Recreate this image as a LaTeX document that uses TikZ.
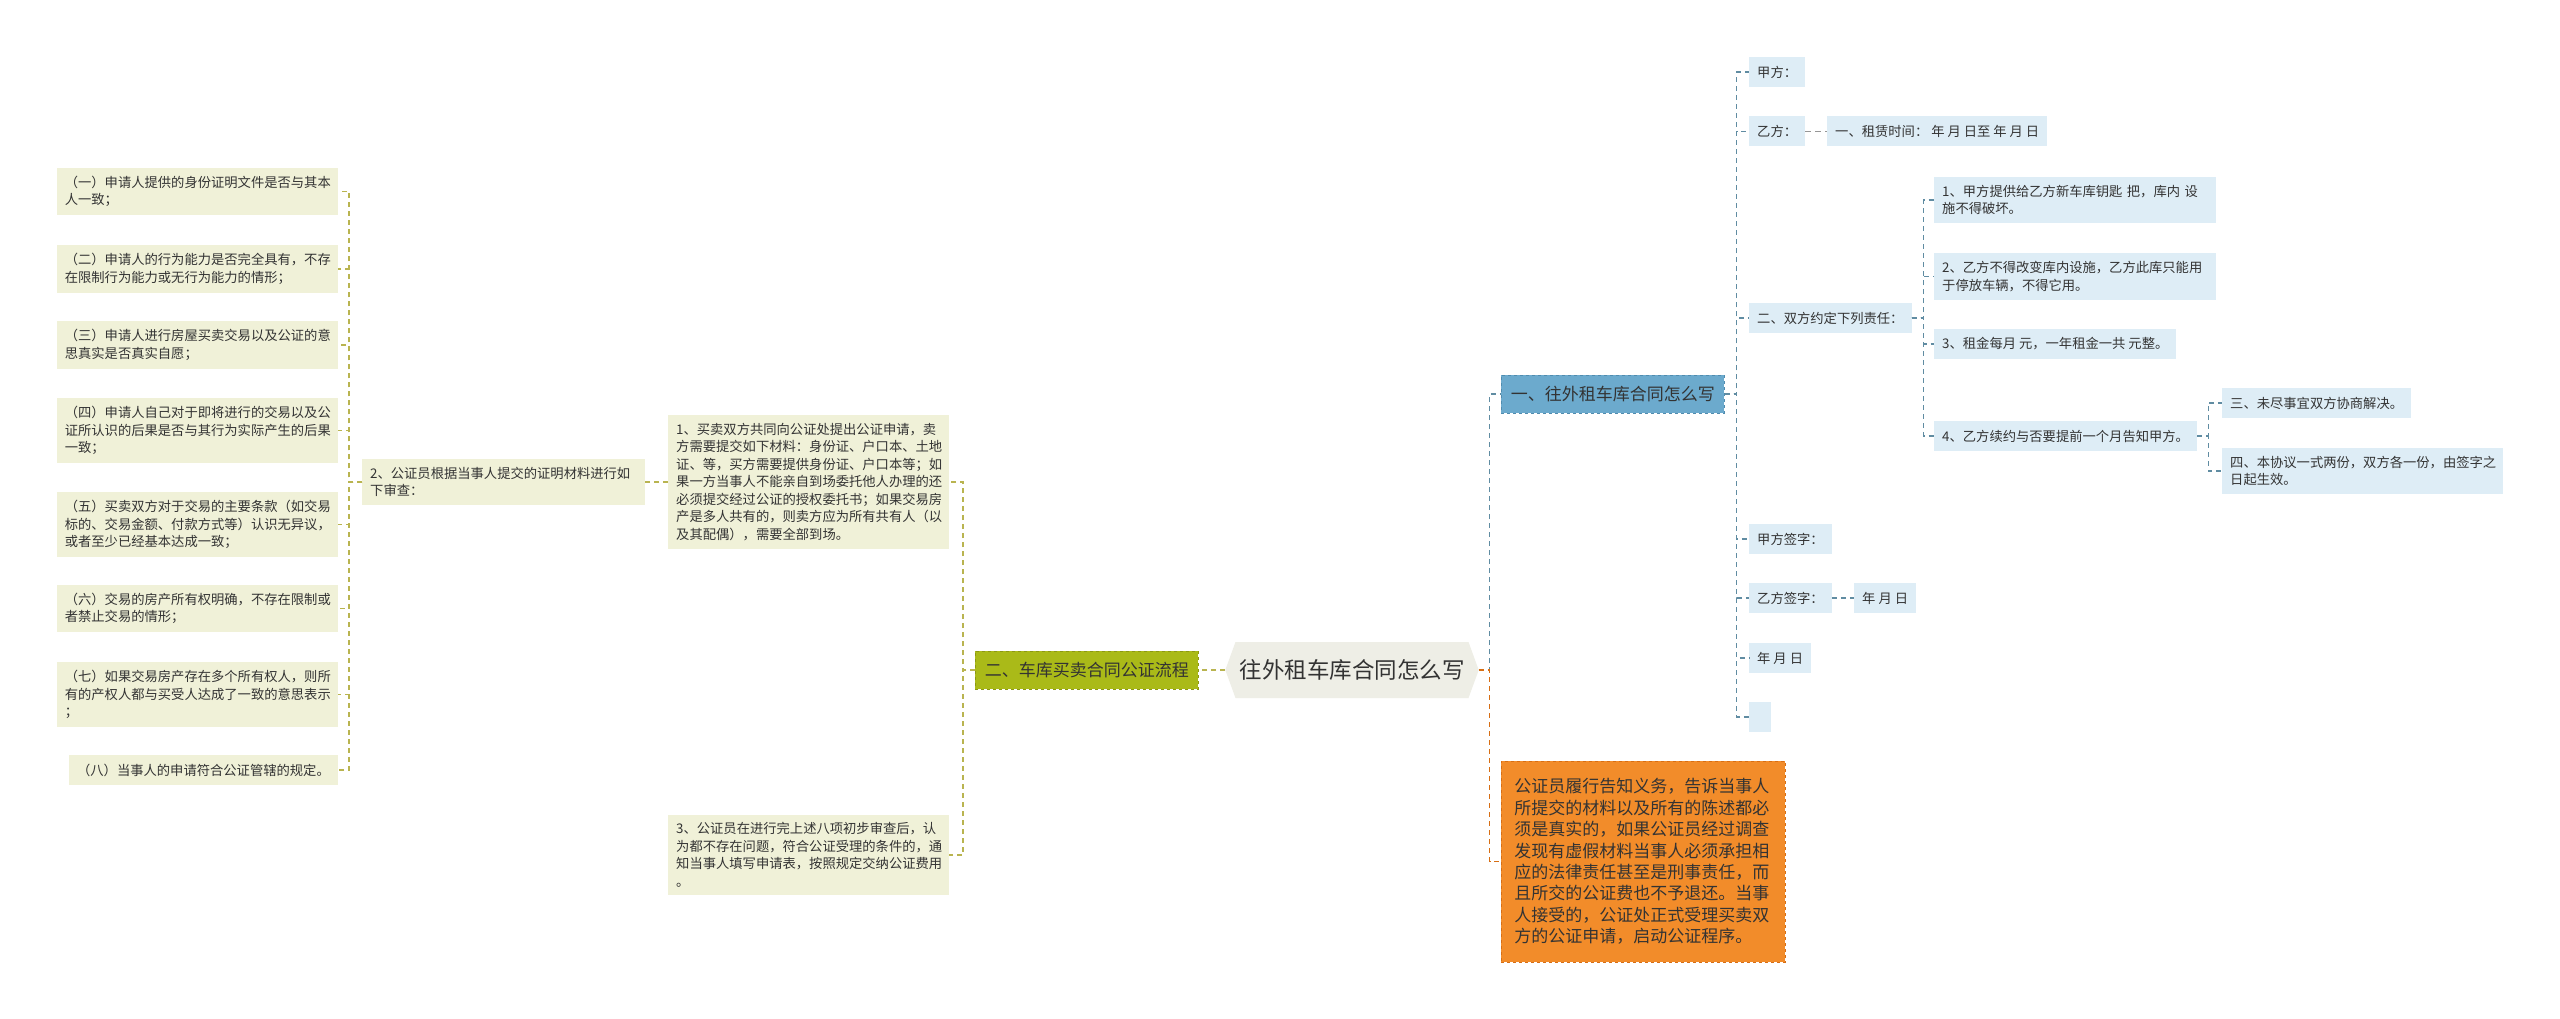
\documentclass[tikz,border=0pt]{standalone}
\usepackage{fontspec}
\newfontfamily\cjk{Noto Sans CJK SC}
\usepackage{tikz}
\usetikzlibrary{shapes.symbols, calc}
\usepackage{xcolor}

\definecolor{leafcream}{RGB}{240,241,216}
\definecolor{leafblue}{RGB}{222,237,246}
\definecolor{olivebox}{RGB}{170,186,24}
\definecolor{oliveedge}{RGB}{140,152,20}
\definecolor{oliveline}{RGB}{185,180,80}
\definecolor{bluebox}{RGB}{108,170,205}
\definecolor{blueedge}{RGB}{80,140,175}
\definecolor{blueline}{RGB}{96,140,162}
\definecolor{grayline}{RGB}{150,150,150}
\definecolor{orangebox}{RGB}{242,140,42}
\definecolor{orangeedge}{RGB}{215,110,20}
\definecolor{rootfill}{RGB}{238,238,230}
\definecolor{textgray}{RGB}{51,51,51}

\begin{document}
\begin{tikzpicture}[x=1pt, y=-1pt,
    every node/.style={text=textgray},
    smalltext/.style={font=\cjk\fontsize{13.3}{17.5}\selectfont, align=left, inner xsep=8pt, inner ysep=8pt, minimum height=30pt},
    leftleaf/.style={smalltext, fill=leafcream, anchor=east},
    rightleaf/.style={smalltext, fill=leafblue, anchor=west},
    bigbox/.style={font=\cjk\fontsize{17}{21.4}\selectfont, align=left, inner xsep=9.5pt, inner ysep=4pt, minimum height=38pt, dashed, line width=0.8pt, anchor=west},
    oliveconn/.style={draw=oliveline, dash pattern=on 5pt off 4pt, line width=1.1pt},
    blueconn/.style={draw=blueline, dash pattern=on 5pt off 4pt, line width=1.1pt},
    grayconn/.style={draw=grayline, dash pattern=on 6pt off 4pt, line width=1.4pt},
    orangeconn/.style={draw=orangeedge, dash pattern=on 5pt off 4pt, line width=1.1pt}]

    \useasboundingbox[fill=white] (0,0) rectangle (2560,1019);

    % root
    \node[signal, signal to=west and east, signal pointer angle=140, fill=rootfill,
          minimum width=252pt, minimum height=56pt, inner xsep=4pt,
          font=\cjk\fontsize{22.5}{26}\selectfont] (root) at (1352,670) {往外租车库合同怎么写};

    % left branch
    \node[bigbox, fill=olivebox, draw=oliveedge] (er) at (975,670) {二、车库买卖合同公证流程};

    \node[leftleaf, anchor=west, text width=265pt] (n1) at (668,482) {1、买卖双方共同向公证处提出公证申请，卖\\方需要提交如下材料：身份证、户口本、土地\\证、等，买方需要提供身份证、户口本等；如\\果一方当事人不能亲自到场委托他人办理的还\\必须提交经过公证的授权委托书；如果交易房\\产是多人共有的，则卖方应为所有共有人（以\\及其配偶），需要全部到场。};
    \node[leftleaf, anchor=west, text width=265pt] (n3) at (668,855) {3、公证员在进行完上述八项初步审查后，认\\为都不存在问题，符合公证受理的条件的，通\\知当事人填写申请表，按照规定交纳公证费用\\。};
    \node[leftleaf, anchor=west, text width=267pt] (n2) at (362,482) {2、公证员根据当事人提交的证明材料进行如\\下审查：};

    % checks
    \node[leftleaf, text width=265pt] (l1) at (338,191.5) {（一）申请人提供的身份证明文件是否与其本\\人一致；};
    \node[leftleaf, text width=265pt] (l2) at (338,269) {（二）申请人的行为能力是否完全具有，不存\\在限制行为能力或无行为能力的情形；};
    \node[leftleaf, text width=265pt] (l3) at (338,345) {（三）申请人进行房屋买卖交易以及公证的意\\思真实是否真实自愿；};
    \node[leftleaf, text width=265pt] (l4) at (338,430.5) {（四）申请人自己对于即将进行的交易以及公\\证所认识的后果是否与其行为实际产生的后果\\一致；};
    \node[leftleaf, text width=265pt] (l5) at (338,524.5) {（五）买卖双方对于交易的主要条款（如交易\\标的、交易金额、付款方式等）认识无异议，\\或者至少已经基本达成一致；};
    \node[leftleaf, text width=265pt] (l6) at (338,608.5) {（六）交易的房产所有权明确，不存在限制或\\者禁止交易的情形；};
    \node[leftleaf, text width=265pt] (l7) at (338,694.5) {（七）如果交易房产存在多个所有权人，则所\\有的产权人都与买受人达成了一致的意思表示\\；};
    \node[leftleaf] (l8) at (338,770) {（八）当事人的申请符合公证管辖的规定。};

    \draw[oliveconn] (root.west) -- (er.east);
    \draw[oliveconn] (er.west) -- ++(-12,0) |- (n1.east);
    \draw[oliveconn] (er.west) -- ++(-12,0) |- (n3.east);
    \draw[oliveconn] (n1.west) -- (n2.east);
    \foreach \i in {1,...,8}
        \draw[oliveconn] (n2.west) -- ++(-13,0) |- (l\i.east);

    % right branch
    \node[bigbox, fill=bluebox, draw=blueedge] (one) at (1501,394) {一、往外租车库合同怎么写};
    \node[bigbox, fill=orangebox, draw=orangeedge, text width=258pt, inner xsep=13pt, minimum height=201pt] (note) at (1501,861.5) {公证员履行告知义务，告诉当事人\\所提交的材料以及所有的陈述都必\\须是真实的，如果公证员经过调查\\发现有虚假材料当事人必须承担相\\应的法律责任甚至是刑事责任，而\\且所交的公证费也不予退还。当事\\人接受的，公证处正式受理买卖双\\方的公证申请，启动公证程序。};

    \node[rightleaf] (r1) at (1749,72) {甲方：};
    \node[rightleaf] (r2) at (1749,131.5) {乙方：};
    \node[rightleaf] (r2a) at (1827,131.5) {一、租赁时间： 年 月 日至 年 月 日};
    \node[rightleaf] (r3) at (1749,318) {二、双方约定下列责任：};
    \node[rightleaf, text width=266pt] (r3a) at (1934,200) {1、甲方提供给乙方新车库钥匙 把，库内 设\\施不得破坏。};
    \node[rightleaf, text width=266pt] (r3b) at (1934,276.5) {2、乙方不得改变库内设施，乙方此库只能用\\于停放车辆，不得它用。};
    \node[rightleaf] (r3c) at (1934,344) {3、租金每月 元，一年租金一共 元整。};
    \node[rightleaf] (r3d) at (1934,436) {4、乙方续约与否要提前一个月告知甲方。};
    \node[rightleaf] (r3d1) at (2222,403) {三、未尽事宜双方协商解决。};
    \node[rightleaf, text width=265pt] (r3d2) at (2222,471) {四、本协议一式两份，双方各一份，由签字之\\日起生效。};
    \node[rightleaf] (r4) at (1749,539) {甲方签字：};
    \node[rightleaf] (r5) at (1749,598) {乙方签字：};
    \node[rightleaf] (r5a) at (1854,598) {年 月 日};
    \node[rightleaf] (r6) at (1749,658) {年 月 日};
    \node[rightleaf, minimum width=22pt] (r7) at (1749,717) {};

    \draw[blueconn] (root.east) -- ++(11,0) |- (one.west);
    \draw[orangeconn] (root.east) -- ++(11,0) |- (note.west);
    \foreach \n in {r1,r2,r3,r4,r5,r6,r7}
        \draw[blueconn] (one.east) -- ++(12,0) |- (\n.west);
    \draw[grayconn] (r2.east) -- (r2a.west);
    \foreach \n in {r3a,r3b,r3c,r3d}
        \draw[blueconn] (r3.east) -- ++(12,0) |- (\n.west);
    \draw[blueconn] (r3d.east) -- ++(11,0) |- (r3d1.west);
    \draw[blueconn] (r3d.east) -- ++(11,0) |- (r3d2.west);
    \draw[blueconn] (r5.east) -- (r5a.west);

\end{tikzpicture}
\end{document}
